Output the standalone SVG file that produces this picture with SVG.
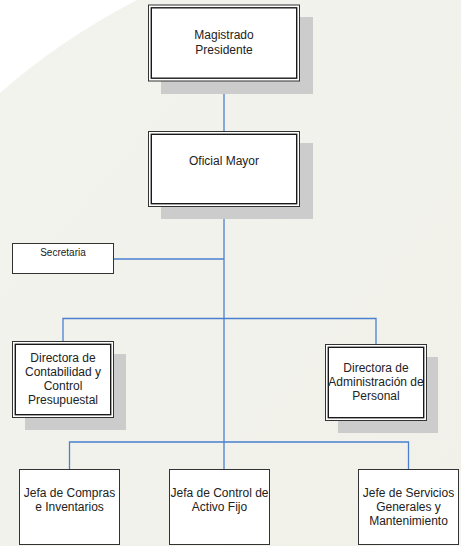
<svg xmlns="http://www.w3.org/2000/svg" width="461" height="546" viewBox="0 0 461 546">
  <defs>
    <linearGradient id="bg" x1="0" y1="0" x2="1" y2="1">
      <stop offset="0" stop-color="#f3f3ee"/>
      <stop offset="1" stop-color="#f1f1ea"/>
    </linearGradient>
    <style>
      .shadow { fill: #cccccc; }
      .box { fill: #ffffff; stroke: #333333; stroke-width: 1; }
      .inner { fill: none; stroke: #1a1a1a; stroke-width: 1.4; }
      .conn { fill: none; stroke: #4a7fcf; stroke-width: 1.3; }
      text { font-family: "Liberation Sans", Arial, sans-serif; font-size: 12px; fill: #222222; text-anchor: middle; }
      .small { font-size: 10px; }
    </style>
  </defs>
  <rect x="0" y="0" width="461" height="546" fill="url(#bg)"/>
  <path d="M0,0 L137,0 Q60,40 0,93 Z" fill="#ffffff"/>
  <path d="M461,470 Q420,500 380,546 L461,546 Z" fill="#f6f6f2"/>

  <g id="connectors">
    <line class="conn" x1="224" y1="81" x2="224" y2="131"/>
    <line class="conn" x1="224" y1="207" x2="224" y2="469.5"/>
    <line class="conn" x1="113.5" y1="259" x2="224" y2="259"/>
    <polyline class="conn" points="63,341.5 63,318.5 376,318.5 376,344.5"/>
    <polyline class="conn" points="69.5,469.5 69.5,442 408.5,442 408.5,469.5"/>
  </g>

  <g id="magistrado">
    <rect class="shadow" x="161" y="17" width="152" height="77"/>
    <rect class="box" x="148.5" y="5" width="151" height="76"/>
    <rect class="inner" x="151.3" y="7.8" width="145.4" height="70.4"/>
    <text x="224" y="39">Magistrado</text>
    <text x="224" y="54">Presidente</text>
  </g>

  <g id="oficial">
    <rect class="shadow" x="161" y="143" width="152" height="76"/>
    <rect class="box" x="148.5" y="131.5" width="151" height="75"/>
    <rect class="inner" x="151.3" y="134.3" width="145.4" height="69.4"/>
    <text x="224" y="165">Oficial Mayor</text>
  </g>

  <g id="secretaria">
    <rect class="box" x="12.5" y="243.5" width="101" height="30"/>
    <text class="small" x="63" y="255.5">Secretaria</text>
  </g>

  <g id="contabilidad">
    <rect class="shadow" x="25" y="354" width="101" height="76"/>
    <rect class="box" x="12.5" y="341.5" width="101" height="76"/>
    <rect class="inner" x="15.3" y="344.3" width="95.4" height="70.4"/>
    <text x="63" y="362">Directora de</text>
    <text x="63" y="376">Contabilidad y</text>
    <text x="63" y="390">Control</text>
    <text x="63" y="404">Presupuestal</text>
  </g>

  <g id="administracion">
    <rect class="shadow" x="338" y="357" width="100" height="76"/>
    <rect class="box" x="325.5" y="344.5" width="101" height="76"/>
    <rect class="inner" x="328.3" y="347.3" width="95.4" height="70.4"/>
    <text x="376" y="372">Directora de</text>
    <text x="376" y="386">Administración de</text>
    <text x="376" y="400">Personal</text>
  </g>

  <g id="compras">
    <rect class="box" x="19.5" y="469.5" width="100" height="75"/>
    <text x="69.5" y="497">Jefa de Compras</text>
    <text x="69.5" y="511">e Inventarios</text>
  </g>

  <g id="activo">
    <rect class="box" x="169.5" y="469.5" width="100" height="75"/>
    <text x="219.5" y="497">Jefa de Control de</text>
    <text x="219.5" y="511">Activo Fijo</text>
  </g>

  <g id="servicios">
    <rect class="box" x="358.5" y="469.5" width="100" height="75"/>
    <text x="408.5" y="497">Jefe de Servicios</text>
    <text x="408.5" y="511">Generales y</text>
    <text x="408.5" y="525">Mantenimiento</text>
  </g>
</svg>
